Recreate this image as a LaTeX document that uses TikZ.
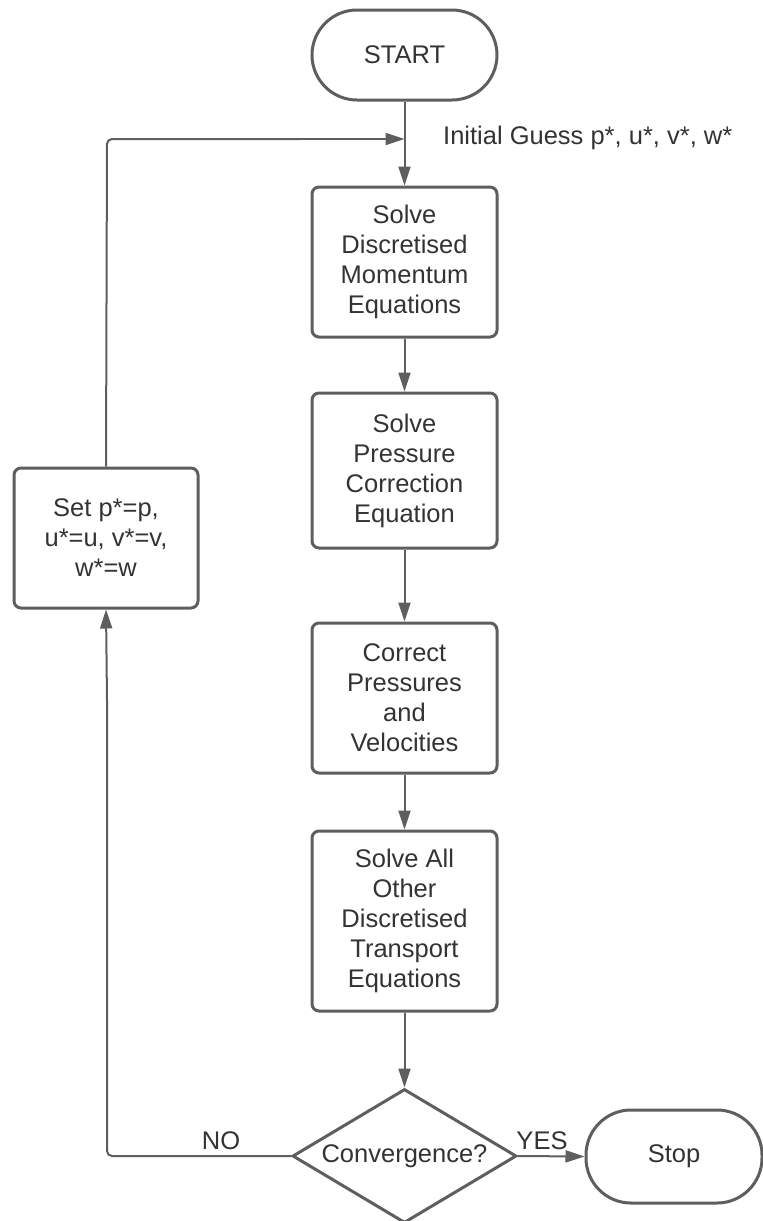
\documentclass[tikz,border=0pt]{standalone}
\usepackage{fontspec}
\setmainfont{Liberation Sans}
\usetikzlibrary{shapes.geometric,arrows.meta}
\definecolor{linec}{HTML}{5E5E5E}
\definecolor{textc}{HTML}{333333}
\begin{document}
\begin{tikzpicture}[x=1pt,y=-1pt,
  every node/.style={text=textc,font=\fontsize{25.5}{30}\selectfont,inner sep=0pt,align=center},
  procbox/.style={draw=linec,line width=3pt,rounded corners=7pt,minimum width=185pt},
  termbox/.style={draw=linec,line width=3pt,rounded corners=45pt},
  decbox/.style={diamond,draw=linec,line width=3pt,minimum width=224pt,minimum height=134pt,aspect=1.67},
  conn/.style={draw=linec,line width=2pt,-{Triangle[length=19pt,width=12pt]}},
  plain/.style={draw=linec,line width=2pt,rounded corners=5pt}]
\useasboundingbox (0,0) rectangle (763,1221);
\node[termbox,minimum width=185pt,minimum height=90pt] (start) at (404.5,55) {START};
\node[procbox,minimum height=150pt] (b1) at (404.5,262) {Solve\\Discretised\\Momentum\\Equations};
\node[procbox,minimum height=155pt] (b2) at (404.5,470.5) {Solve\\Pressure\\Correction\\Equation};
\node[procbox,minimum height=150pt] (b3) at (404.5,698) {Correct\\Pressures\\and\\Velocities};
\node[procbox,minimum height=180pt] (b4) at (404.5,921) {Solve All\\Other\\Discretised\\Transport\\Equations};
\node[decbox] (dec) at (404.5,1156) {Convergence?};
\node[termbox,minimum width=176pt,minimum height=93pt] (stop) at (674,1156.5) {Stop};
\node[procbox,minimum width=184pt,minimum height=140pt] (set) at (106,538) {Set p*=p,\\u*=u, v*=v,\\w*=w};
\coordinate (join) at (404.5,139);
\coordinate (ltop) at (107,139);
\coordinate (lbot) at (107,1156);
\node[anchor=west] (guess) at (443,138) {Initial Guess p*, u*, v*, w*};
\node (no) at (221,1141) {NO};
\node (yes) at (542,1141) {YES};
\draw[conn] (start.south) -- (b1.north);
\draw[conn] (b1.south) -- (b2.north);
\draw[conn] (b2.south) -- (b3.north);
\draw[conn] (b3.south) -- (b4.north);
\draw[conn] (b4.south) -- (dec.north);
\draw[conn] (dec.east) -- (stop.west);
\draw[plain] (dec.west) -- (lbot) -- (107,700);
\draw[conn] (107,700) -- (set.south);
\draw[plain] (set.north) -- (ltop) -- (300,139);
\draw[conn] (300,139) -- (join);
\end{tikzpicture}
\end{document}
